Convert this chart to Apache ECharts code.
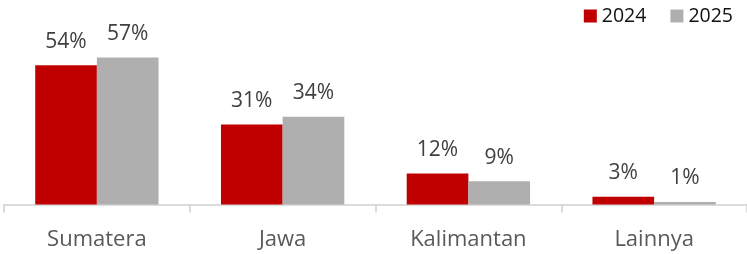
<!DOCTYPE html>
<html>
<head>
<meta charset="utf-8">
<script src="https://cdn.jsdelivr.net/npm/echarts@6/dist/echarts.min.js"></script>
<style>
  html, body { margin: 0; padding: 0; background: #fff; }
  #chart { width: 747px; height: 254px; }
</style>
</head>
<body>
<div id="chart"></div>
<script>
const categories = ["Sumatera", "Jawa", "Kalimantan", "Lainnya"];
const values2024 = [54, 31, 12, 3];
const values2025 = [57, 34, 9, 1];

let myChart = echarts.init(document.getElementById("chart"));

const barLabel = {
  show: true,
  position: "top",
  distance: 13,
  formatter: "{c}%",
  color: "#404040",
  fontSize: 21,
  fontFamily: "Open Sans",
};

myChart.setOption({
  animation: false,
  legend: {
    top: 1,
    right: 9,
    itemWidth: 13,
    itemHeight: 13,
    itemGap: 24,
    icon: "rect",
    textStyle: { fontSize: 19.5, color: "#111", fontFamily: "Open Sans" },
    data: ["2024", "2025"],
  },
  grid: {
    left: 4,
    right: -1,
    top: 24,
    bottom: 49.5,
  },
  xAxis: {
    type: "category",
    data: categories,
    axisLine: { lineStyle: { color: "#d0d0d0", width: 1.5 } },
    axisTick: { show: true, length: 8, lineStyle: { color: "#d0d0d0", width: 1.5 } },
    axisLabel: { fontSize: 22, color: "#595959", fontFamily: "Open Sans", margin: 24 },
  },
  yAxis: {
    type: "value",
    min: 0,
    max: 70,
    show: false,
    splitLine: { show: false },
  },
  series: [
    {
      name: "2024",
      type: "bar",
      data: values2024,
      barGap: "0%",
      barCategoryGap: "33.6%",
      itemStyle: { color: "#C00000" },
      label: barLabel,
    },
    {
      name: "2025",
      type: "bar",
      data: values2025,
      itemStyle: { color: "#AFAFAF" },
      label: barLabel,
    },
  ],
});
</script>
</body>
</html>
